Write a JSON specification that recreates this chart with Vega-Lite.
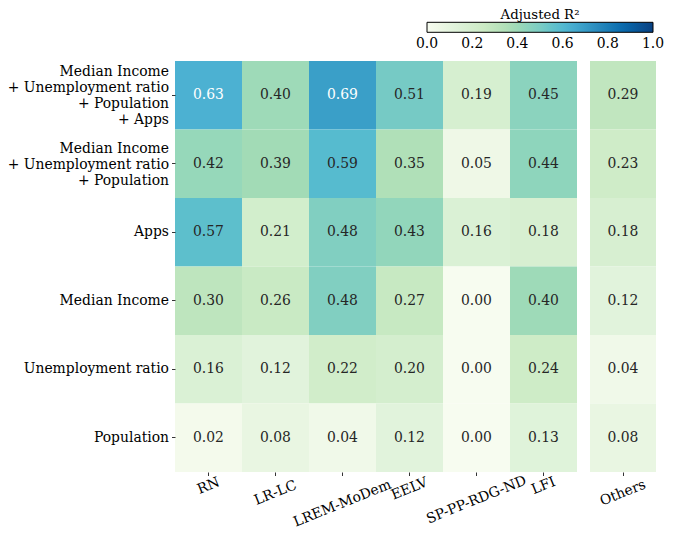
{
  "$schema": "https://vega.github.io/schema/vega-lite/v6.json",
  "autosize": {"type": "pad"},
  "padding": {"left": 7, "top": 8, "right": 5, "bottom": 5},
  "background": "white",
  "config": {
    "font": "DejaVu Serif",
    "view": {"stroke": null},
    "concat": {"spacing": 13},
    "axis": {"labelFont": "DejaVu Serif", "labelFontSize": 13.9, "labelColor": "#000000", "tickColor": "#000000", "tickSize": 3.5, "tickWidth": 0.8, "domain": false, "title": null, "grid": false},
    "axisX": {"labelAngle": -22, "labelAlign": "center", "labelBaseline": "middle",
      "labelPadding": {"condition": [{"test": "length(datum.label) <= 3", "value": 10}, {"test": "length(datum.label) <= 4", "value": 13}, {"test": "length(datum.label) <= 6", "value": 17}, {"test": "length(datum.label) <= 10", "value": 27.5}], "value": 24}}
  },
  "data": {"values": [
    {"model": "Median Income\n+ Unemployment ratio\n+ Population\n+ Apps", "party": "RN", "r2": 0.63},
    {"model": "Median Income\n+ Unemployment ratio\n+ Population\n+ Apps", "party": "LR-LC", "r2": 0.40},
    {"model": "Median Income\n+ Unemployment ratio\n+ Population\n+ Apps", "party": "LREM-MoDem", "r2": 0.69},
    {"model": "Median Income\n+ Unemployment ratio\n+ Population\n+ Apps", "party": "EELV", "r2": 0.51},
    {"model": "Median Income\n+ Unemployment ratio\n+ Population\n+ Apps", "party": "SP-PP-RDG-ND", "r2": 0.19},
    {"model": "Median Income\n+ Unemployment ratio\n+ Population\n+ Apps", "party": "LFI", "r2": 0.45},
    {"model": "Median Income\n+ Unemployment ratio\n+ Population\n+ Apps", "party": "Others", "r2": 0.29},
    {"model": "Median Income\n+ Unemployment ratio\n+ Population", "party": "RN", "r2": 0.42},
    {"model": "Median Income\n+ Unemployment ratio\n+ Population", "party": "LR-LC", "r2": 0.39},
    {"model": "Median Income\n+ Unemployment ratio\n+ Population", "party": "LREM-MoDem", "r2": 0.59},
    {"model": "Median Income\n+ Unemployment ratio\n+ Population", "party": "EELV", "r2": 0.35},
    {"model": "Median Income\n+ Unemployment ratio\n+ Population", "party": "SP-PP-RDG-ND", "r2": 0.05},
    {"model": "Median Income\n+ Unemployment ratio\n+ Population", "party": "LFI", "r2": 0.44},
    {"model": "Median Income\n+ Unemployment ratio\n+ Population", "party": "Others", "r2": 0.23},
    {"model": "Apps", "party": "RN", "r2": 0.57},
    {"model": "Apps", "party": "LR-LC", "r2": 0.21},
    {"model": "Apps", "party": "LREM-MoDem", "r2": 0.48},
    {"model": "Apps", "party": "EELV", "r2": 0.43},
    {"model": "Apps", "party": "SP-PP-RDG-ND", "r2": 0.16},
    {"model": "Apps", "party": "LFI", "r2": 0.18},
    {"model": "Apps", "party": "Others", "r2": 0.18},
    {"model": "Median Income", "party": "RN", "r2": 0.30},
    {"model": "Median Income", "party": "LR-LC", "r2": 0.26},
    {"model": "Median Income", "party": "LREM-MoDem", "r2": 0.48},
    {"model": "Median Income", "party": "EELV", "r2": 0.27},
    {"model": "Median Income", "party": "SP-PP-RDG-ND", "r2": 0.00},
    {"model": "Median Income", "party": "LFI", "r2": 0.40},
    {"model": "Median Income", "party": "Others", "r2": 0.12},
    {"model": "Unemployment ratio", "party": "RN", "r2": 0.16},
    {"model": "Unemployment ratio", "party": "LR-LC", "r2": 0.12},
    {"model": "Unemployment ratio", "party": "LREM-MoDem", "r2": 0.22},
    {"model": "Unemployment ratio", "party": "EELV", "r2": 0.20},
    {"model": "Unemployment ratio", "party": "SP-PP-RDG-ND", "r2": 0.00},
    {"model": "Unemployment ratio", "party": "LFI", "r2": 0.24},
    {"model": "Unemployment ratio", "party": "Others", "r2": 0.04},
    {"model": "Population", "party": "RN", "r2": 0.02},
    {"model": "Population", "party": "LR-LC", "r2": 0.08},
    {"model": "Population", "party": "LREM-MoDem", "r2": 0.04},
    {"model": "Population", "party": "EELV", "r2": 0.12},
    {"model": "Population", "party": "SP-PP-RDG-ND", "r2": 0.00},
    {"model": "Population", "party": "LFI", "r2": 0.13},
    {"model": "Population", "party": "Others", "r2": 0.08}
  ]},
  "resolve": {"scale": {"color": "shared"}, "legend": {"color": "shared"}},
  "hconcat": [
    {
      "width": 402,
      "height": 411,
      "transform": [{"filter": "datum.party !== 'Others'"}],
      "encoding": {
        "x": {"field": "party", "type": "nominal", "sort": ["RN", "LR-LC", "LREM-MoDem", "EELV", "SP-PP-RDG-ND", "LFI"], "scale": {"paddingInner": 0, "paddingOuter": 0}},
        "y": {"field": "model", "type": "nominal", "sort": null, "scale": {"paddingInner": 0, "paddingOuter": 0},
          "axis": {"labelExpr": "split(datum.label, '\\n')", "labelLineHeight": 16, "labelPadding": 3,
            "labelOffset": {"condition": [{"test": "length(split(datum.label, '\\n')) == 4", "value": -23}, {"test": "length(split(datum.label, '\\n')) == 3", "value": -15}], "value": 0}}}
      },
      "layer": [
        {"mark": {"type": "rect"},
          "encoding": {"color": {"field": "r2", "type": "quantitative",
            "scale": {"domain": [0, 0.125, 0.25, 0.375, 0.5, 0.625, 0.75, 0.875, 1], "range": ["#f7fcf0", "#e0f3db", "#ccebc5", "#a8ddb5", "#7bccc4", "#4eb3d3", "#2b8cbe", "#0868ac", "#084081"]},
            "legend": {"title": "Adjusted R²", "orient": "none", "direction": "horizontal", "legendX": 252, "legendY": -53,
              "gradientLength": 226, "gradientThickness": 10, "gradientStrokeColor": "#000000", "gradientStrokeWidth": 1,
              "values": [0, 0.2, 0.4, 0.6, 0.8, 1], "format": ".1f", "labelFontSize": 13.9, "labelFont": "DejaVu Serif", "labelColor": "#000000",
              "titleFont": "DejaVu Serif", "titleFontSize": 13.3, "titleFontWeight": "normal", "titleColor": "#000000", "titleAnchor": "middle", "titlePadding": 1, "labelOffset": 5,
              "encode": {"labels": {"update": {"align": {"value": "center"}}}}}}}},
        {"mark": {"type": "text", "fontSize": 13.9, "font": "DejaVu Serif"},
          "encoding": {"text": {"field": "r2", "type": "quantitative", "format": ".2f"},
            "color": {"condition": {"test": "datum.r2 > 0.6", "value": "#ffffff"}, "value": "#262626"}}}
      ]
    },
    {
      "width": 66,
      "height": 411,
      "transform": [{"filter": "datum.party === 'Others'"}],
      "encoding": {
        "x": {"field": "party", "type": "nominal", "scale": {"paddingInner": 0, "paddingOuter": 0}},
        "y": {"field": "model", "type": "nominal", "sort": null, "scale": {"paddingInner": 0, "paddingOuter": 0}, "axis": null}
      },
      "layer": [
        {"mark": {"type": "rect"},
          "encoding": {"color": {"field": "r2", "type": "quantitative"}}},
        {"mark": {"type": "text", "fontSize": 13.9, "font": "DejaVu Serif"},
          "encoding": {"text": {"field": "r2", "type": "quantitative", "format": ".2f"},
            "color": {"condition": {"test": "datum.r2 > 0.6", "value": "#ffffff"}, "value": "#262626"}}}
      ]
    }
  ]
}
